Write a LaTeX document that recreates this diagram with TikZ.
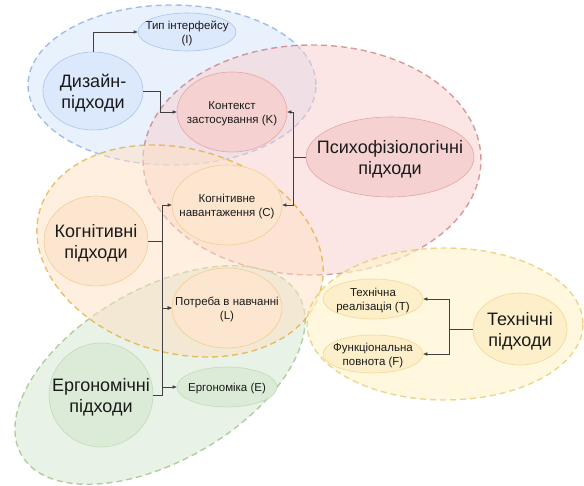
\documentclass[tikz,border=0pt]{standalone}
\usepackage{fontspec}
\setmainfont{Liberation Sans}
\usetikzlibrary{shapes.geometric,arrows.meta}
\definecolor{bluF}{HTML}{DAE8FC}
\definecolor{bluD}{HTML}{7EA6E0}
\definecolor{redF}{HTML}{F8CECC}
\definecolor{redD}{HTML}{C0605C}
\definecolor{ornF}{HTML}{FFE0C2}
\definecolor{ornD}{HTML}{E0A420}
\definecolor{grnF}{HTML}{D5E8D4}
\definecolor{grnD}{HTML}{82B366}
\definecolor{ylwF}{HTML}{FFF2CC}
\definecolor{ylwD}{HTML}{E0BE50}
\definecolor{nBluF}{HTML}{DCE8FB}
\definecolor{nBluD}{HTML}{A9C4EB}
\definecolor{nRedF}{HTML}{F5D2D1}
\definecolor{nRedD}{HTML}{E3A5A3}
\definecolor{nOrnF}{HTML}{FDE6D0}
\definecolor{nOrnD}{HTML}{F2CD90}
\definecolor{nGrnF}{HTML}{DCEAD8}
\definecolor{nGrnD}{HTML}{C0DCB4}
\definecolor{nYlwF}{HTML}{FDEFC9}
\definecolor{nYlwD}{HTML}{F0D896}
\definecolor{lineC}{HTML}{404040}
\definecolor{txtC}{HTML}{1A1A1A}
\newcommand{\ntext}[1]{\smash{\clap{\raisebox{-0.4em}{\begin{tabular}{@{}c@{}}#1\end{tabular}}}}}
\tikzset{
  region/.style={ellipse, dash pattern=on 6pt off 4pt, line width=1.4pt, inner sep=0pt},
  inner/.style={ellipse, line width=0.6pt, inner sep=0pt, text=txtC},
  big/.style={inner, font=\fontsize{18}{20.5}\selectfont},
  small/.style={inner, font=\fontsize{11.5}{14.5}\selectfont},
  conn/.style={draw=lineC, line width=0.6pt, -{Triangle[length=4pt,width=3.2pt]}}
}
\begin{document}
\begin{tikzpicture}[x=1pt,y=-1pt]
\useasboundingbox (0,0) rectangle (584,486);
% regions
\node[region, draw=bluD, draw opacity=0.7, fill=bluF, fill opacity=0.6, minimum width=288pt, minimum height=160pt] (rD) at (172,85) {};
\node[region, draw=redD, draw opacity=0.6, fill=redF, fill opacity=0.5, minimum width=338pt, minimum height=230pt] (rP) at (312,160) {};
\node[region, draw=grnD, draw opacity=0.6, fill=grnF, fill opacity=0.55, minimum width=320pt, minimum height=172pt, rotate=30] (rE) at (160,375) {};
\node[region, draw=ornD, draw opacity=0.65, fill=ornF, fill opacity=0.5, minimum width=292pt, minimum height=204pt, rotate=-16] (rK) at (180,251) {};
\node[region, draw=ylwD, draw opacity=0.6, fill=ylwF, fill opacity=0.65, minimum width=276pt, minimum height=152pt] (rT) at (445,324) {};
% inner nodes
\node[big, draw=nBluD, fill=nBluF, minimum width=100pt, minimum height=78pt] (D) at (93,91) {\ntext{Дизайн-\\підходи}};
\node[small, draw=nBluD, fill=nBluF, minimum width=98pt, minimum height=38pt] (I) at (187,32) {\ntext{Тип інтерфейсу\\(I)}};
\node[small, draw=nRedD, fill=nRedF, minimum width=110pt, minimum height=80pt] (K) at (232,112) {\ntext{Контекст\\застосування (K)}};
\node[big, draw=nRedD, fill=nRedF, minimum width=168pt, minimum height=80pt] (P) at (390,157) {\ntext{Психофізіологічні\\підходи}};
\node[small, draw=nOrnD, fill=nOrnF, minimum width=110pt, minimum height=80pt] (C) at (227,205) {\ntext{Когнітивне\\навантаження (C)}};
\node[big, draw=nOrnD, fill=nOrnF, minimum width=104pt, minimum height=90pt] (Kg) at (96,241) {\ntext{Когнітивні\\підходи}};
\node[small, draw=nOrnD, fill=nOrnF, minimum width=110pt, minimum height=80pt] (L) at (227,308) {\ntext{Потреба в навчанні\\(L)}};
\node[big, draw=nGrnD, fill=nGrnF, minimum width=104pt, minimum height=104pt] (Er) at (101,395) {\ntext{Ергономічні\\підходи}};
\node[small, draw=nGrnD, fill=nGrnF, minimum width=100pt, minimum height=40pt] (E) at (227,387) {\ntext{Ергономіка (E)}};
\node[small, draw=nYlwD, fill=nYlwF, minimum width=100pt, minimum height=40pt] (T) at (373,299) {\ntext{Технічна\\реалізація (T)}};
\node[small, draw=nYlwD, fill=nYlwF, minimum width=100pt, minimum height=38pt] (F) at (373,354) {\ntext{Функціональна\\повнота (F)}};
\node[big, draw=nYlwD, fill=nYlwF, minimum width=94pt, minimum height=72pt] (Tp) at (520,329) {\ntext{Технічні\\підходи}};
% junctions
\coordinate (jD) at (160,91);
\coordinate (jP) at (293,157);
\coordinate (jK) at (162,241);
\coordinate (jE) at (162,395);
\coordinate (jT) at (449,329);
% connectors
\draw[conn] (D.north) |- (I.west);
\draw[conn] (D.east) -- (jD) |- (K.west);
\draw[conn] (P.west) -- (jP) |- (K.east);
\draw[conn] (P.west) -- (jP) |- (C.east);
\draw[conn] (Kg.east) -- (jK) |- (C.west);
\draw[conn] (Kg.east) -- (jK) |- (L.west);
\draw[conn] (Er.east) -- (jE) |- (L.west);
\draw[conn] (Er.east) -- (jE) |- (E.west);
\draw[conn] (Tp.west) -- (jT) |- (T.east);
\draw[conn] (Tp.west) -- (jT) |- (F.east);
\end{tikzpicture}
\end{document}
